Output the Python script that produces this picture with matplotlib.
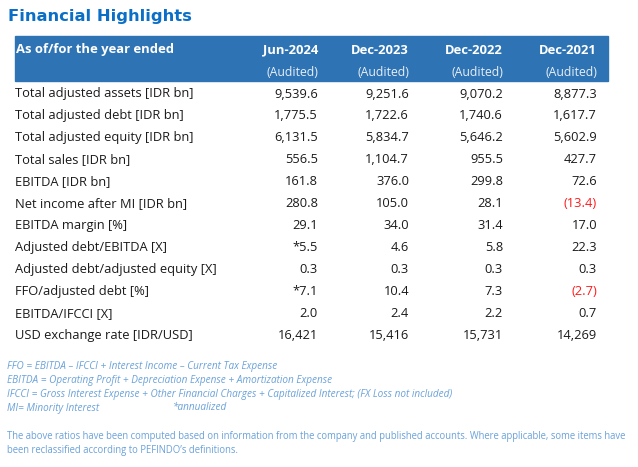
import matplotlib.pyplot as plt
from matplotlib.patches import Rectangle

title = 'Financial Highlights'
header_label = 'As of/for the year ended'
periods = ['Jun-2024', 'Dec-2023', 'Dec-2022', 'Dec-2021']
status = ['(Audited)', '(Audited)', '(Audited)', '(Audited)']

row_labels = ['Total adjusted assets [IDR bn]', 'Total adjusted debt [IDR bn]',
              'Total adjusted equity [IDR bn]', 'Total sales [IDR bn]',
              'EBITDA [IDR bn]', 'Net income after MI [IDR bn]', 'EBITDA margin [%]',
              'Adjusted debt/EBITDA [X]', 'Adjusted debt/adjusted equity [X]',
              'FFO/adjusted debt [%]', 'EBITDA/IFCCI [X]', 'USD exchange rate [IDR/USD]']
jun24 = ['9,539.6', '1,775.5', '6,131.5', '556.5', '161.8', '280.8', '29.1',
         '*5.5', '0.3', '*7.1', '2.0', '16,421']
dec23 = ['9,251.6', '1,722.6', '5,834.7', '1,104.7', '376.0', '105.0', '34.0',
         '4.6', '0.3', '10.4', '2.4', '15,416']
dec22 = ['9,070.2', '1,740.6', '5,646.2', '955.5', '299.8', '28.1', '31.4',
         '5.8', '0.3', '7.3', '2.2', '15,731']
dec21 = ['8,877.3', '1,617.7', '5,602.9', '427.7', '72.6', '(13.4)', '17.0',
         '22.3', '0.3', '(2.7)', '0.7', '14,269']

notes = ['FFO = EBITDA \u2013 IFCCI + Interest Income \u2013 Current Tax Expense',
         'EBITDA = Operating Profit + Depreciation Expense + Amortization Expense',
         'IFCCI = Gross Interest Expense + Other Financial Charges + Capitalized Interest; (FX Loss not included)',
         'MI= Minority Interest']
annual_note = '*annualized'
remark = ['The above ratios have been computed based on information from the company and published accounts. Where applicable, some items have',
          'been reclassified according to PEFINDO\u2019s definitions.']

W, H = 638, 467
plt.rcParams['font.family'] = ['Open Sans', 'DejaVu Sans']
fig = plt.figure(figsize=(W / 100, H / 100), dpi=100)


def fx(x):
    return x / W


def fy(y):
    return 1 - y / H


blue = '#2e74b5'
dark = '#1a1a1a'
note_col = '#6aa2da'

fig.text(fx(8), fy(17), title, color='#0b6fc7', fontsize=11.8, fontweight='bold',
         va='center', ha='left', family=['DejaVu Sans'])

fig.patches.append(Rectangle((fx(15), fy(81)), fx(608) - fx(15), fy(36) - fy(81),
                             transform=fig.transFigure, color=blue, zorder=0))

col_right = [318, 409, 503, 597]
fig.text(fx(16), fy(50), header_label, color='white', fontsize=9.4, fontweight='bold',
         va='center', ha='left')
for x, p, s in zip(col_right, periods, status):
    fig.text(fx(x), fy(50), p, color='white', fontsize=9.4, fontweight='bold',
             va='center', ha='right')
    fig.text(fx(x), fy(72), s, color='#e8eef6', fontsize=8.8, va='center', ha='right')

row_h = 21.95
for i, lab in enumerate(row_labels):
    y = 94 + i * row_h
    fig.text(fx(15), fy(y), lab, color=dark, fontsize=9.3, va='center', ha='left')
    for x, col in zip(col_right, [jun24, dec23, dec22, dec21]):
        v = col[i]
        c = '#ff1a1a' if v.startswith('(') else dark
        fig.text(fx(x), fy(y), v, color=c, fontsize=9.3, va='center', ha='right')

for i, n in enumerate(notes):
    fig.text(fx(7), fy(366 + i * 14), n, color=note_col, fontsize=7.2, style='italic',
             va='center', ha='left')
fig.text(fx(173), fy(408), annual_note, color=note_col, fontsize=7.2, style='italic',
         va='center', ha='left')
for i, r in enumerate(remark):
    fig.text(fx(7), fy(437 + i * 13.5), r, color=note_col, fontsize=6.85,
             va='center', ha='left')

fig.savefig('out.png', dpi=100)
